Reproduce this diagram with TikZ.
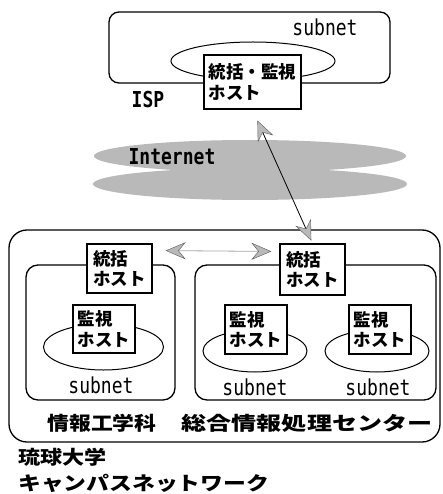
\documentclass[tikz,border=0pt]{standalone}
\usepackage{fontspec}
\usepackage{graphicx}
\newfontfamily\jp{Noto Sans CJK JP}
\newfontfamily\mono{DejaVu Sans Mono}
\newcommand{\tallword}[1]{\scalebox{1}[1.22]{#1}}
\usetikzlibrary{arrows.meta}
\tikzset{
  hostbox/.style={draw, line width=1.3pt, fill=white, align=left, inner sep=3pt,
    font=\jp\bfseries\fontsize{17.5}{20.5}\selectfont},
  roundbox/.style={draw, line width=1.3pt, rounded corners=#1},
  subnetring/.style={draw, line width=1pt},
  latin/.style={font=\mono\fontsize{18}{20}\selectfont, inner sep=0pt},
  biglabel/.style={font=\jp\bfseries\fontsize{19}{22}\selectfont, inner sep=0pt},
  gtip/.tip={Stealth[length=20pt, width=17pt, inset=7pt, fill=gray!55, color=gray!70!black, line width=0.4pt]},
  link/.style={line width=0.8pt, gtip-gtip},
}
\begin{document}
\begin{tikzpicture}[x=1pt, y=-1pt]
\useasboundingbox (0,0) rectangle (442,494);

% ISP
\draw[roundbox=10pt] (109,12) rectangle (390,83);
\draw[subnetring] (253,61) ellipse [x radius=82, y radius=19];
\node[latin] (ispsub) at (325,27) {\tallword{subnet}};
\node[latin, font=\mono\bfseries\fontsize{18}{20}\selectfont] (isplab) at (148,100) {\tallword{ISP}};
\node[hostbox, minimum width=97pt, minimum height=54pt] (isph) at (252.5,82) {統括・監視\\ホスト};

% Internet cloud
\fill[gray!55] (250,156) ellipse [x radius=156, y radius=16];
\fill[gray!55] (250,184) ellipse [x radius=157, y radius=16];
\node[latin, font=\mono\bfseries\fontsize{18}{20}\selectfont] (inet) at (172,157) {\tallword{Internet}};

% Campus network
\draw[roundbox=18pt] (9,230) rectangle (440,442);
\draw[roundbox=12pt] (26,265) rectangle (175,400);
\draw[roundbox=12pt] (195,265) rectangle (436,400);

\draw[subnetring] (103.5,347) ellipse [x radius=60, y radius=23];
\draw[subnetring] (255,351) ellipse [x radius=52, y radius=21];
\draw[subnetring] (377,351) ellipse [x radius=52, y radius=21];

\node[hostbox, minimum width=65pt, minimum height=49pt] (lt) at (119.5,268.5) {統括\\ホスト};
\node[hostbox, minimum width=62pt, minimum height=48pt] (lm) at (104,329) {監視\\ホスト};
\node[hostbox, minimum width=65pt, minimum height=51pt] (rt) at (312.5,269.5) {統括\\ホスト};
\node[hostbox, minimum width=62pt, minimum height=49pt] (rm1) at (256,329.5) {監視\\ホスト};
\node[hostbox, minimum width=62pt, minimum height=49pt] (rm2) at (380,329.5) {監視\\ホスト};

\node[latin] (lsub) at (101,385) {\tallword{subnet}};
\node[latin] (rsub1) at (255,387) {\tallword{subnet}};
\node[latin] (rsub2) at (378,387) {\tallword{subnet}};

\node[biglabel] (dept) at (102,423) {\scalebox{1.15}[1]{情報工学科}};
\node[biglabel] (center) at (307,423) {\scalebox{1.32}[1]{総合情報処理センター}};
\node[biglabel, anchor=west] (univ) at (18,457) {\scalebox{1.16}[1]{琉球大学}};
\node[biglabel, anchor=west] (campus) at (18,483) {\scalebox{1.2}[1]{キャンパスネットワーク}};

% connectors
\draw[link, shorten <=12pt, shorten >=3pt] (isph.south) -- (rt.north);
\draw[link, draw=gray!70, shorten <=13pt, shorten >=8pt] ([yshift=18pt]lt.east) -- ([yshift=18pt]rt.west);
\end{tikzpicture}
\end{document}
